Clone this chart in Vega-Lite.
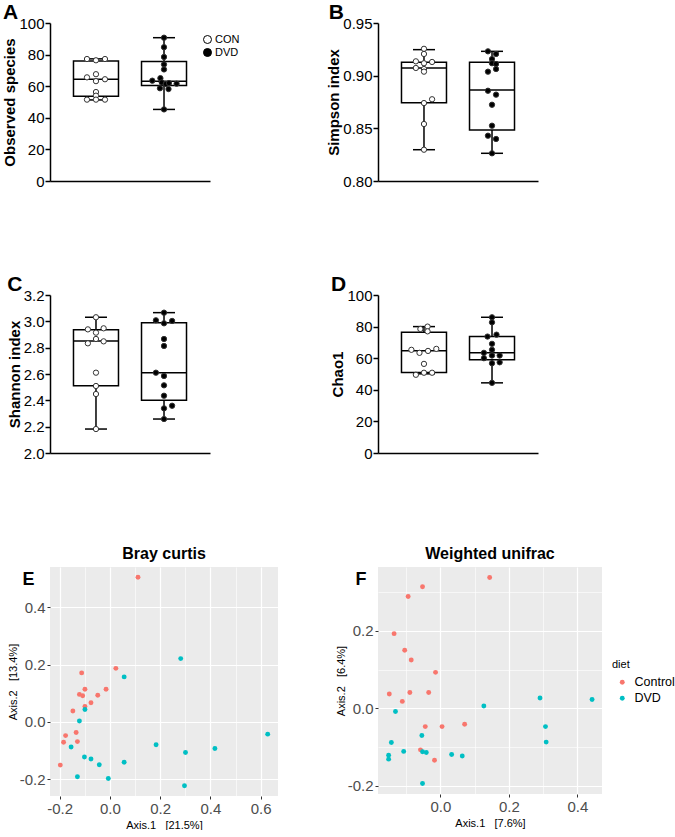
{
  "$schema": "https://vega.github.io/schema/vega-lite/v6.json",
  "padding": {"left": 2, "top": 2, "right": 0, "bottom": 0},
  "background": "white",
  "config": {
    "font": "Liberation Sans",
    "view": {"stroke": null},
    "axis": {"labelOverlap": false, "labelFlush": false, "labelBound": false},
    "axisY": {"labelFontSize": 15, "labelColor": "black", "titleFontSize": 15, "titleFontWeight": "bold", "titleColor": "black", "domainColor": "black", "domainWidth": 1.5, "tickColor": "black", "tickWidth": 1.5, "tickSize": 5, "labelPadding": 1, "titlePadding": 1, "grid": false}
  },
  "columns": 2,
  "spacing": {"row": 43, "column": 100},
  "bounds": "flush",
  "align": "all",
  "resolve": {
    "scale": {"fill": "independent", "color": "independent", "x": "independent", "y": "independent", "xOffset": "independent"},
    "legend": {"fill": "independent", "color": "independent"}
  },
  "datasets": {
    "A_box": [
      {"group": "CON", "min": 51.3, "q1": 53.6, "median": 64.4, "q3": 75.9, "max": 77.3},
      {"group": "DVD", "min": 45.3, "q1": 60.5, "median": 63.2, "q3": 75.7, "max": 90.7}
    ],
    "A_pts": [
      {"group": "CON", "value": 77.2, "col": -1}, {"group": "CON", "value": 76.4, "col": 0}, {"group": "CON", "value": 77.2, "col": 1},
      {"group": "CON", "value": 65.6, "col": -1}, {"group": "CON", "value": 67.6, "col": 0}, {"group": "CON", "value": 63.2, "col": 0},
      {"group": "CON", "value": 64.4, "col": 1}, {"group": "CON", "value": 56.3, "col": 0}, {"group": "CON", "value": 54.0, "col": 0},
      {"group": "CON", "value": 51.5, "col": -1}, {"group": "CON", "value": 51.5, "col": 0}, {"group": "CON", "value": 51.5, "col": 1},
      {"group": "DVD", "value": 90.7, "col": 0}, {"group": "DVD", "value": 84.7, "col": 0}, {"group": "DVD", "value": 78.5, "col": 0},
      {"group": "DVD", "value": 73.8, "col": 0}, {"group": "DVD", "value": 70.6, "col": 0}, {"group": "DVD", "value": 63.5, "col": -1.3},
      {"group": "DVD", "value": 65.1, "col": -0.4}, {"group": "DVD", "value": 62.4, "col": -0.25}, {"group": "DVD", "value": 61.4, "col": 0.2},
      {"group": "DVD", "value": 62.0, "col": 0.55}, {"group": "DVD", "value": 61.6, "col": 1.4}, {"group": "DVD", "value": 58.7, "col": -0.45},
      {"group": "DVD", "value": 58.2, "col": 0.5}, {"group": "DVD", "value": 45.3, "col": 0}
    ],
    "B_box": [
      {"group": "CON", "min": 0.8297, "q1": 0.8744, "median": 0.9073, "q3": 0.9127, "max": 0.9247},
      {"group": "DVD", "min": 0.8263, "q1": 0.8484, "median": 0.8864, "q3": 0.9127, "max": 0.9231}
    ],
    "B_pts": [
      {"group": "CON", "value": 0.9255, "col": 0}, {"group": "CON", "value": 0.9206, "col": 0}, {"group": "CON", "value": 0.9136, "col": -0.9},
      {"group": "CON", "value": 0.9118, "col": 0}, {"group": "CON", "value": 0.9130, "col": 0.9}, {"group": "CON", "value": 0.9073, "col": -0.9},
      {"group": "CON", "value": 0.9063, "col": 0}, {"group": "CON", "value": 0.9038, "col": 0}, {"group": "CON", "value": 0.8776, "col": 0.9},
      {"group": "CON", "value": 0.8740, "col": 0}, {"group": "CON", "value": 0.8541, "col": 0}, {"group": "CON", "value": 0.8297, "col": 0},
      {"group": "DVD", "value": 0.9231, "col": -0.45}, {"group": "DVD", "value": 0.9206, "col": 0.45}, {"group": "DVD", "value": 0.9158, "col": 0},
      {"group": "DVD", "value": 0.9118, "col": 0}, {"group": "DVD", "value": 0.9111, "col": 0.45}, {"group": "DVD", "value": 0.9038, "col": -0.45},
      {"group": "DVD", "value": 0.9063, "col": 0.45}, {"group": "DVD", "value": 0.8857, "col": -0.45}, {"group": "DVD", "value": 0.8820, "col": 0.45},
      {"group": "DVD", "value": 0.8724, "col": 0}, {"group": "DVD", "value": 0.8525, "col": 0}, {"group": "DVD", "value": 0.8430, "col": -0.45},
      {"group": "DVD", "value": 0.8399, "col": 0.45}, {"group": "DVD", "value": 0.8263, "col": 0}
    ],
    "C_box": [
      {"group": "CON", "min": 2.182, "q1": 2.511, "median": 2.851, "q3": 2.936, "max": 3.031},
      {"group": "DVD", "min": 2.258, "q1": 2.400, "median": 2.610, "q3": 2.990, "max": 3.066}
    ],
    "C_pts": [
      {"group": "CON", "value": 3.031, "col": 0}, {"group": "CON", "value": 2.939, "col": -0.9}, {"group": "CON", "value": 2.947, "col": 0.85},
      {"group": "CON", "value": 2.914, "col": 0}, {"group": "CON", "value": 2.866, "col": 0}, {"group": "CON", "value": 2.833, "col": -0.9},
      {"group": "CON", "value": 2.848, "col": 0.85}, {"group": "CON", "value": 2.610, "col": 0}, {"group": "CON", "value": 2.509, "col": 0},
      {"group": "CON", "value": 2.448, "col": 0}, {"group": "CON", "value": 2.182, "col": 0},
      {"group": "DVD", "value": 3.066, "col": 0}, {"group": "DVD", "value": 3.008, "col": -0.9}, {"group": "DVD", "value": 2.985, "col": 0},
      {"group": "DVD", "value": 3.003, "col": 0.9}, {"group": "DVD", "value": 2.866, "col": 0}, {"group": "DVD", "value": 2.813, "col": 0},
      {"group": "DVD", "value": 2.610, "col": -0.9}, {"group": "DVD", "value": 2.585, "col": 0}, {"group": "DVD", "value": 2.514, "col": 0},
      {"group": "DVD", "value": 2.435, "col": 0}, {"group": "DVD", "value": 2.339, "col": 0}, {"group": "DVD", "value": 2.359, "col": 0.9},
      {"group": "DVD", "value": 2.258, "col": 0}
    ],
    "D_box": [
      {"group": "CON", "min": 50.1, "q1": 51.0, "median": 64.7, "q3": 76.4, "max": 80.0},
      {"group": "DVD", "min": 44.4, "q1": 59.0, "median": 63.4, "q3": 73.7, "max": 85.9}
    ],
    "D_pts": [
      {"group": "CON", "value": 78.5, "col": -0.4}, {"group": "CON", "value": 80.0, "col": 0.4}, {"group": "CON", "value": 77.0, "col": 0.4},
      {"group": "CON", "value": 65.3, "col": -1.4}, {"group": "CON", "value": 63.4, "col": -0.5}, {"group": "CON", "value": 64.6, "col": 0.45},
      {"group": "CON", "value": 65.9, "col": 1.37}, {"group": "CON", "value": 56.4, "col": 0}, {"group": "CON", "value": 49.5, "col": -0.9},
      {"group": "CON", "value": 50.8, "col": 0}, {"group": "CON", "value": 50.8, "col": 0.9},
      {"group": "DVD", "value": 85.9, "col": 0}, {"group": "DVD", "value": 82.7, "col": 0}, {"group": "DVD", "value": 73.7, "col": -0.5},
      {"group": "DVD", "value": 74.9, "col": 0.5}, {"group": "DVD", "value": 69.1, "col": 0}, {"group": "DVD", "value": 63.4, "col": -0.9},
      {"group": "DVD", "value": 65.3, "col": 0}, {"group": "DVD", "value": 61.7, "col": 0}, {"group": "DVD", "value": 60.0, "col": -0.9},
      {"group": "DVD", "value": 61.7, "col": 0.85}, {"group": "DVD", "value": 57.4, "col": 0.85}, {"group": "DVD", "value": 56.8, "col": 0},
      {"group": "DVD", "value": 44.4, "col": 0}
    ],
    "E_pts": [
      {"diet": "Control", "a1": 0.112, "a2": 0.505}, {"diet": "Control", "a1": 0.024, "a2": 0.187}, {"diet": "Control", "a1": -0.112, "a2": 0.171},
      {"diet": "Control", "a1": -0.099, "a2": 0.114}, {"diet": "Control", "a1": -0.015, "a2": 0.114}, {"diet": "Control", "a1": -0.048, "a2": 0.093},
      {"diet": "Control", "a1": -0.121, "a2": 0.096}, {"diet": "Control", "a1": -0.108, "a2": 0.091}, {"diet": "Control", "a1": -0.075, "a2": 0.067},
      {"diet": "Control", "a1": -0.099, "a2": 0.054}, {"diet": "Control", "a1": -0.147, "a2": 0.038}, {"diet": "Control", "a1": -0.134, "a2": -0.037},
      {"diet": "Control", "a1": -0.176, "a2": -0.048}, {"diet": "Control", "a1": -0.129, "a2": -0.069}, {"diet": "Control", "a1": -0.184, "a2": -0.071},
      {"diet": "Control", "a1": -0.197, "a2": -0.151},
      {"diet": "DVD", "a1": 0.282, "a2": 0.221}, {"diet": "DVD", "a1": 0.057, "a2": 0.157}, {"diet": "DVD", "a1": -0.099, "a2": 0.043},
      {"diet": "DVD", "a1": -0.121, "a2": 0.003}, {"diet": "DVD", "a1": -0.154, "a2": -0.088}, {"diet": "DVD", "a1": -0.101, "a2": -0.123},
      {"diet": "DVD", "a1": -0.075, "a2": -0.130}, {"diet": "DVD", "a1": -0.042, "a2": -0.150}, {"diet": "DVD", "a1": 0.057, "a2": -0.141},
      {"diet": "DVD", "a1": -0.129, "a2": -0.192}, {"diet": "DVD", "a1": -0.006, "a2": -0.198}, {"diet": "DVD", "a1": 0.184, "a2": -0.080},
      {"diet": "DVD", "a1": 0.301, "a2": -0.107}, {"diet": "DVD", "a1": 0.297, "a2": -0.223}, {"diet": "DVD", "a1": 0.418, "a2": -0.093},
      {"diet": "DVD", "a1": 0.628, "a2": -0.043}
    ],
    "F_pts": [
      {"diet": "Control", "a1": 0.144, "a2": 0.338}, {"diet": "Control", "a1": -0.052, "a2": 0.314}, {"diet": "Control", "a1": -0.094, "a2": 0.289},
      {"diet": "Control", "a1": -0.135, "a2": 0.193}, {"diet": "Control", "a1": -0.104, "a2": 0.150}, {"diet": "Control", "a1": -0.085, "a2": 0.125},
      {"diet": "Control", "a1": -0.014, "a2": 0.093}, {"diet": "Control", "a1": -0.149, "a2": 0.037}, {"diet": "Control", "a1": -0.089, "a2": 0.041},
      {"diet": "Control", "a1": -0.034, "a2": 0.041}, {"diet": "Control", "a1": -0.111, "a2": 0.018}, {"diet": "Control", "a1": -0.044, "a2": -0.047},
      {"diet": "Control", "a1": 0.005, "a2": -0.047}, {"diet": "Control", "a1": 0.071, "a2": -0.041}, {"diet": "Control", "a1": -0.058, "a2": -0.107},
      {"diet": "Control", "a1": -0.017, "a2": -0.134},
      {"diet": "DVD", "a1": 0.291, "a2": 0.027}, {"diet": "DVD", "a1": 0.443, "a2": 0.023}, {"diet": "DVD", "a1": 0.307, "a2": -0.047},
      {"diet": "DVD", "a1": 0.309, "a2": -0.087}, {"diet": "DVD", "a1": 0.127, "a2": 0.006}, {"diet": "DVD", "a1": -0.131, "a2": -0.008},
      {"diet": "DVD", "a1": -0.143, "a2": -0.088}, {"diet": "DVD", "a1": -0.151, "a2": -0.121}, {"diet": "DVD", "a1": -0.151, "a2": -0.131},
      {"diet": "DVD", "a1": -0.107, "a2": -0.111}, {"diet": "DVD", "a1": -0.054, "a2": -0.070}, {"diet": "DVD", "a1": -0.052, "a2": -0.112},
      {"diet": "DVD", "a1": -0.041, "a2": -0.114}, {"diet": "DVD", "a1": 0.033, "a2": -0.119}, {"diet": "DVD", "a1": 0.064, "a2": -0.123},
      {"diet": "DVD", "a1": -0.052, "a2": -0.194}
    ]
  },
  "concat": [
    {
      "width": 160, "height": 158,
      "title": {"text": "A", "anchor": "start", "frame": "bounds", "fontSize": 21, "fontWeight": "bold", "color": "black", "offset": -7},
      "encoding": {
        "x": {"field": "group", "type": "nominal", "scale": {"type": "band", "domain": ["CON", "DVD"], "paddingInner": 0.3, "paddingOuter": 0.326},
              "axis": {"labels": false, "ticks": false, "title": null, "domainColor": "black", "domainWidth": 1.5, "grid": false}}
      },
      "layer": [
        {"data": {"name": "A_box"}, "mark": {"type": "rule", "color": "black", "strokeWidth": 1.5},
         "encoding": {"y": {"field": "min", "type": "quantitative", "title": "Observed species", "scale": {"domain": [0, 100], "nice": false, "zero": false}, "axis": {"values": [0, 20, 40, 60, 80, 100]}},
                      "y2": {"field": "max"}}},
        {"data": {"name": "A_box"}, "mark": {"type": "bar", "size": 45, "fill": "white", "stroke": "black", "strokeWidth": 1.5},
         "encoding": {"y": {"field": "q1", "type": "quantitative", "title": "Observed species", "axis": {"values": [0, 20, 40, 60, 80, 100]}}, "y2": {"field": "q3"}}},
        {"data": {"name": "A_box"}, "mark": {"type": "tick", "size": 45, "thickness": 1.5, "color": "black", "opacity": 1},
         "encoding": {"y": {"field": "median", "type": "quantitative", "title": "Observed species", "axis": {"values": [0, 20, 40, 60, 80, 100]}}}},
        {"data": {"name": "A_box"}, "mark": {"type": "tick", "size": 22, "thickness": 1.5, "color": "black", "opacity": 1},
         "encoding": {"y": {"field": "min", "type": "quantitative", "title": "Observed species", "axis": {"values": [0, 20, 40, 60, 80, 100]}}}},
        {"data": {"name": "A_box"}, "mark": {"type": "tick", "size": 22, "thickness": 1.5, "color": "black", "opacity": 1},
         "encoding": {"y": {"field": "max", "type": "quantitative", "title": "Observed species", "axis": {"values": [0, 20, 40, 60, 80, 100]}}}},
        {"data": {"name": "A_pts"}, "mark": {"type": "point", "filled": true, "stroke": "#333333", "strokeWidth": 1, "size": 28, "opacity": 1},
         "encoding": {
           "y": {"field": "value", "type": "quantitative", "title": "Observed species", "axis": {"values": [0, 20, 40, 60, 80, 100]}},
           "xOffset": {"field": "col", "type": "quantitative", "scale": {"domain": [-1, 1], "range": [14.8, 32.8]}},
           "fill": {"field": "group", "type": "nominal", "scale": {"domain": ["CON", "DVD"], "range": ["white", "black"]},
                    "legend": {"title": null, "orient": "none", "legendX": 152, "legendY": 11, "padding": 0, "labelFontSize": 11, "labelColor": "black", "symbolSize": 64, "symbolType": "circle", "symbolStrokeColor": "black", "symbolStrokeWidth": 1, "labelOffset": 2, "rowPadding": 0}}
         }}
      ]
    },
    {
      "width": 160, "height": 158,
      "title": {"text": "B", "anchor": "start", "frame": "bounds", "fontSize": 21, "fontWeight": "bold", "color": "black", "offset": -7, "dx": 2},
      "encoding": {
        "x": {"field": "group", "type": "nominal", "scale": {"type": "band", "domain": ["CON", "DVD"], "paddingInner": 0.3, "paddingOuter": 0.326},
              "axis": {"labels": false, "ticks": false, "title": null, "domainColor": "black", "domainWidth": 1.5, "grid": false}}
      },
      "layer": [
        {"data": {"name": "B_box"}, "mark": {"type": "rule", "color": "black", "strokeWidth": 1.5},
         "encoding": {"y": {"field": "min", "type": "quantitative", "title": "Simpson index", "scale": {"domain": [0.8, 0.95], "nice": false, "zero": false}, "axis": {"values": [0.8, 0.85, 0.9, 0.95], "format": ".2f"}},
                      "y2": {"field": "max"}}},
        {"data": {"name": "B_box"}, "mark": {"type": "bar", "size": 45, "fill": "white", "stroke": "black", "strokeWidth": 1.5},
         "encoding": {"y": {"field": "q1", "type": "quantitative", "title": "Simpson index", "axis": {"values": [0.8, 0.85, 0.9, 0.95], "format": ".2f"}}, "y2": {"field": "q3"}}},
        {"data": {"name": "B_box"}, "mark": {"type": "tick", "size": 45, "thickness": 1.5, "color": "black", "opacity": 1},
         "encoding": {"y": {"field": "median", "type": "quantitative", "title": "Simpson index", "axis": {"values": [0.8, 0.85, 0.9, 0.95], "format": ".2f"}}}},
        {"data": {"name": "B_box"}, "mark": {"type": "tick", "size": 22, "thickness": 1.5, "color": "black", "opacity": 1},
         "encoding": {"y": {"field": "min", "type": "quantitative", "title": "Simpson index", "axis": {"values": [0.8, 0.85, 0.9, 0.95], "format": ".2f"}}}},
        {"data": {"name": "B_box"}, "mark": {"type": "tick", "size": 22, "thickness": 1.5, "color": "black", "opacity": 1},
         "encoding": {"y": {"field": "max", "type": "quantitative", "title": "Simpson index", "axis": {"values": [0.8, 0.85, 0.9, 0.95], "format": ".2f"}}}},
        {"data": {"name": "B_pts"}, "mark": {"type": "point", "filled": true, "stroke": "#333333", "strokeWidth": 1, "size": 28, "opacity": 1},
         "encoding": {
           "y": {"field": "value", "type": "quantitative", "title": "Simpson index", "axis": {"values": [0.8, 0.85, 0.9, 0.95], "format": ".2f"}},
           "xOffset": {"field": "col", "type": "quantitative", "scale": {"domain": [-1, 1], "range": [14.8, 32.8]}},
           "fill": {"field": "group", "type": "nominal", "scale": {"domain": ["CON", "DVD"], "range": ["white", "black"]}, "legend": null}
         }}
      ]
    },
    {
      "width": 160, "height": 158,
      "title": {"text": "C", "anchor": "start", "frame": "bounds", "fontSize": 21, "fontWeight": "bold", "color": "black", "offset": -7},
      "encoding": {
        "x": {"field": "group", "type": "nominal", "scale": {"type": "band", "domain": ["CON", "DVD"], "paddingInner": 0.3, "paddingOuter": 0.326},
              "axis": {"labels": false, "ticks": false, "title": null, "domainColor": "black", "domainWidth": 1.5, "grid": false}}
      },
      "layer": [
        {"data": {"name": "C_box"}, "mark": {"type": "rule", "color": "black", "strokeWidth": 1.5},
         "encoding": {"y": {"field": "min", "type": "quantitative", "title": "Shannon index", "scale": {"domain": [2.0, 3.2], "nice": false, "zero": false}, "axis": {"values": [2.0, 2.2, 2.4, 2.6, 2.8, 3.0, 3.2], "format": ".1f"}},
                      "y2": {"field": "max"}}},
        {"data": {"name": "C_box"}, "mark": {"type": "bar", "size": 45, "fill": "white", "stroke": "black", "strokeWidth": 1.5},
         "encoding": {"y": {"field": "q1", "type": "quantitative", "title": "Shannon index", "axis": {"values": [2.0, 2.2, 2.4, 2.6, 2.8, 3.0, 3.2], "format": ".1f"}}, "y2": {"field": "q3"}}},
        {"data": {"name": "C_box"}, "mark": {"type": "tick", "size": 45, "thickness": 1.5, "color": "black", "opacity": 1},
         "encoding": {"y": {"field": "median", "type": "quantitative", "title": "Shannon index", "axis": {"values": [2.0, 2.2, 2.4, 2.6, 2.8, 3.0, 3.2], "format": ".1f"}}}},
        {"data": {"name": "C_box"}, "mark": {"type": "tick", "size": 22, "thickness": 1.5, "color": "black", "opacity": 1},
         "encoding": {"y": {"field": "min", "type": "quantitative", "title": "Shannon index", "axis": {"values": [2.0, 2.2, 2.4, 2.6, 2.8, 3.0, 3.2], "format": ".1f"}}}},
        {"data": {"name": "C_box"}, "mark": {"type": "tick", "size": 22, "thickness": 1.5, "color": "black", "opacity": 1},
         "encoding": {"y": {"field": "max", "type": "quantitative", "title": "Shannon index", "axis": {"values": [2.0, 2.2, 2.4, 2.6, 2.8, 3.0, 3.2], "format": ".1f"}}}},
        {"data": {"name": "C_pts"}, "mark": {"type": "point", "filled": true, "stroke": "#333333", "strokeWidth": 1, "size": 28, "opacity": 1},
         "encoding": {
           "y": {"field": "value", "type": "quantitative", "title": "Shannon index", "axis": {"values": [2.0, 2.2, 2.4, 2.6, 2.8, 3.0, 3.2], "format": ".1f"}},
           "xOffset": {"field": "col", "type": "quantitative", "scale": {"domain": [-1, 1], "range": [14.8, 32.8]}},
           "fill": {"field": "group", "type": "nominal", "scale": {"domain": ["CON", "DVD"], "range": ["white", "black"]}, "legend": null}
         }}
      ]
    },
    {
      "width": 160, "height": 158,
      "title": {"text": "D", "anchor": "start", "frame": "bounds", "fontSize": 21, "fontWeight": "bold", "color": "black", "offset": -7},
      "encoding": {
        "x": {"field": "group", "type": "nominal", "scale": {"type": "band", "domain": ["CON", "DVD"], "paddingInner": 0.3, "paddingOuter": 0.326},
              "axis": {"labels": false, "ticks": false, "title": null, "domainColor": "black", "domainWidth": 1.5, "grid": false}}
      },
      "layer": [
        {"data": {"name": "D_box"}, "mark": {"type": "rule", "color": "black", "strokeWidth": 1.5},
         "encoding": {"y": {"field": "min", "type": "quantitative", "title": "Chao1", "scale": {"domain": [0, 100], "nice": false, "zero": false}, "axis": {"values": [0, 20, 40, 60, 80, 100]}},
                      "y2": {"field": "max"}}},
        {"data": {"name": "D_box"}, "mark": {"type": "bar", "size": 45, "fill": "white", "stroke": "black", "strokeWidth": 1.5},
         "encoding": {"y": {"field": "q1", "type": "quantitative", "title": "Chao1", "axis": {"values": [0, 20, 40, 60, 80, 100]}}, "y2": {"field": "q3"}}},
        {"data": {"name": "D_box"}, "mark": {"type": "tick", "size": 45, "thickness": 1.5, "color": "black", "opacity": 1},
         "encoding": {"y": {"field": "median", "type": "quantitative", "title": "Chao1", "axis": {"values": [0, 20, 40, 60, 80, 100]}}}},
        {"data": {"name": "D_box"}, "mark": {"type": "tick", "size": 22, "thickness": 1.5, "color": "black", "opacity": 1},
         "encoding": {"y": {"field": "min", "type": "quantitative", "title": "Chao1", "axis": {"values": [0, 20, 40, 60, 80, 100]}}}},
        {"data": {"name": "D_box"}, "mark": {"type": "tick", "size": 22, "thickness": 1.5, "color": "black", "opacity": 1},
         "encoding": {"y": {"field": "max", "type": "quantitative", "title": "Chao1", "axis": {"values": [0, 20, 40, 60, 80, 100]}}}},
        {"data": {"name": "D_pts"}, "mark": {"type": "point", "filled": true, "stroke": "#333333", "strokeWidth": 1, "size": 28, "opacity": 1},
         "encoding": {
           "y": {"field": "value", "type": "quantitative", "title": "Chao1", "axis": {"values": [0, 20, 40, 60, 80, 100]}},
           "xOffset": {"field": "col", "type": "quantitative", "scale": {"domain": [-1, 1], "range": [14.8, 32.8]}},
           "fill": {"field": "group", "type": "nominal", "scale": {"domain": ["CON", "DVD"], "range": ["white", "black"]}, "legend": null}
         }}
      ]
    },
    {
      "width": 228, "height": 229,
      "view": {"fill": "#EBEBEB", "stroke": null},
      "title": {"text": "Bray curtis", "fontSize": 16, "fontWeight": "bold", "color": "black", "anchor": "middle", "frame": "group", "offset": 5},
      "data": {"name": "E_pts"},
      "resolve": {"axis": {"x": "independent"}},
      "layer": [
        {"transform": [{"filter": "datum.diet == 'Control'"}],
         "mark": {"type": "circle", "size": 24, "opacity": 1},
         "encoding": {
           "x": {"field": "a1", "type": "quantitative", "scale": {"domain": [-0.238, 0.669], "nice": false, "zero": false},
                 "axis": {"values": [-0.2, -0.1, 0, 0.1, 0.2, 0.3, 0.4, 0.5, 0.6],
                          "labelExpr": "abs(round(datum.value*10)) % 2 == 1 ? '' : (datum.value < 0 ? '-' : '') + format(abs(datum.value), '.1f')",
                          "grid": true, "gridColor": "white",
                          "gridWidth": {"condition": {"test": "abs(round(datum.value*10)) % 2 == 1", "value": 0.6}, "value": 1.2},
                          "tickColor": {"condition": {"test": "abs(round(datum.value*10)) % 2 == 1", "value": "transparent"}, "value": "#333333"},
                          "domain": false, "tickSize": 3, "tickWidth": 1, "labelFontSize": 15, "labelColor": "#4D4D4D", "labelPadding": 2,
                          "title": "Axis.1\u00a0\u00a0\u00a0[21.5%]", "titleFontSize": 11, "titleFontWeight": "normal", "titleColor": "black", "titlePadding": 3}},
           "y": {"field": "a2", "type": "quantitative", "scale": {"domain": [-0.259, 0.541], "nice": false, "zero": false},
                 "axis": {"values": [-0.2, -0.1, 0, 0.1, 0.2, 0.3, 0.4, 0.5],
                          "labelExpr": "abs(round(datum.value*10)) % 2 == 1 ? '' : (datum.value < 0 ? '-' : '') + format(abs(datum.value), '.1f')",
                          "grid": true, "gridColor": "white",
                          "gridWidth": {"condition": {"test": "abs(round(datum.value*10)) % 2 == 1", "value": 0.6}, "value": 1.2},
                          "tickColor": {"condition": {"test": "abs(round(datum.value*10)) % 2 == 1", "value": "transparent"}, "value": "#333333"},
                          "domain": false, "tickSize": 3, "tickWidth": 1, "labelFontSize": 15, "labelColor": "#4D4D4D", "labelPadding": 2,
                          "title": "Axis.2\u00a0\u00a0\u00a0[13.4%]", "titleFontSize": 11, "titleFontWeight": "normal", "titleColor": "black", "titlePadding": 1}},
           "color": {"field": "diet", "type": "nominal", "scale": {"domain": ["Control", "DVD"], "range": ["#F8766D", "#00BFC4"]}, "legend": null}
         }},
        {"transform": [{"filter": "datum.diet == 'DVD'"}],
         "mark": {"type": "circle", "size": 24, "opacity": 1},
         "encoding": {
           "x": {"field": "a1", "type": "quantitative",
                 "axis": {"orient": "top", "title": "E", "titleAngle": 0, "titleAlign": "left", "titleBaseline": "alphabetic", "titleX": -28, "titleY": 17,
                          "titleFontSize": 18, "titleFontWeight": "bold", "titleColor": "black", "labels": false, "ticks": false, "domain": false, "grid": false}},
           "y": {"field": "a2", "type": "quantitative", "title": "Axis.2\u00a0\u00a0\u00a0[13.4%]"},
           "color": {"field": "diet", "type": "nominal", "legend": null}
         }}
      ]
    },
    {
      "width": 224, "height": 227,
      "view": {"fill": "#EBEBEB", "stroke": null},
      "title": {"text": "Weighted unifrac", "fontSize": 16, "fontWeight": "bold", "color": "black", "anchor": "middle", "frame": "group", "offset": 5},
      "data": {"name": "F_pts"},
      "resolve": {"axis": {"x": "independent"}},
      "layer": [
        {"transform": [{"filter": "datum.diet == 'Control'"}],
         "mark": {"type": "circle", "size": 24, "opacity": 1},
         "encoding": {
           "x": {"field": "a1", "type": "quantitative", "scale": {"domain": [-0.182, 0.472], "nice": false, "zero": false},
                 "axis": {"values": [-0.1, 0, 0.1, 0.2, 0.3, 0.4],
                          "labelExpr": "abs(round(datum.value*10)) % 2 == 1 ? '' : (datum.value < 0 ? '-' : '') + format(abs(datum.value), '.1f')",
                          "grid": true, "gridColor": "white",
                          "gridWidth": {"condition": {"test": "abs(round(datum.value*10)) % 2 == 1", "value": 0.6}, "value": 1.2},
                          "tickColor": {"condition": {"test": "abs(round(datum.value*10)) % 2 == 1", "value": "transparent"}, "value": "#333333"},
                          "domain": false, "tickSize": 3, "tickWidth": 1, "labelFontSize": 15, "labelColor": "#4D4D4D", "labelPadding": 2,
                          "title": "Axis.1\u00a0\u00a0\u00a0[7.6%]", "titleFontSize": 11, "titleFontWeight": "normal", "titleColor": "black", "titlePadding": 3}},
           "y": {"field": "a2", "type": "quantitative", "scale": {"domain": [-0.221, 0.365], "nice": false, "zero": false},
                 "axis": {"values": [-0.2, -0.1, 0, 0.1, 0.2, 0.3],
                          "labelExpr": "abs(round(datum.value*10)) % 2 == 1 ? '' : (datum.value < 0 ? '-' : '') + format(abs(datum.value), '.1f')",
                          "grid": true, "gridColor": "white",
                          "gridWidth": {"condition": {"test": "abs(round(datum.value*10)) % 2 == 1", "value": 0.6}, "value": 1.2},
                          "tickColor": {"condition": {"test": "abs(round(datum.value*10)) % 2 == 1", "value": "transparent"}, "value": "#333333"},
                          "domain": false, "tickSize": 3, "tickWidth": 1, "labelFontSize": 15, "labelColor": "#4D4D4D", "labelPadding": 2,
                          "title": "Axis.2\u00a0\u00a0\u00a0[6.4%]", "titleFontSize": 11, "titleFontWeight": "normal", "titleColor": "black", "titlePadding": 1}},
           "color": {"field": "diet", "type": "nominal", "scale": {"domain": ["Control", "DVD"], "range": ["#F8766D", "#00BFC4"]},
                     "legend": {"title": "diet", "orient": "none", "legendX": 234, "legendY": 92, "padding": 0, "titleFontSize": 11, "titleFontWeight": "normal", "titleColor": "black", "titlePadding": 6,
                                "labelFontSize": 12.5, "labelColor": "black", "symbolType": "circle", "symbolSize": 24, "symbolOffset": 4, "labelOffset": 6, "rowPadding": 3}}
         }},
        {"transform": [{"filter": "datum.diet == 'DVD'"}],
         "mark": {"type": "circle", "size": 24, "opacity": 1},
         "encoding": {
           "x": {"field": "a1", "type": "quantitative",
                 "axis": {"orient": "top", "title": "F", "titleAngle": 0, "titleAlign": "left", "titleBaseline": "alphabetic", "titleX": -23, "titleY": 17,
                          "titleFontSize": 18, "titleFontWeight": "bold", "titleColor": "black", "labels": false, "ticks": false, "domain": false, "grid": false}},
           "y": {"field": "a2", "type": "quantitative", "title": "Axis.2\u00a0\u00a0\u00a0[6.4%]"},
           "color": {"field": "diet", "type": "nominal"}
         }}
      ]
    }
  ]
}
